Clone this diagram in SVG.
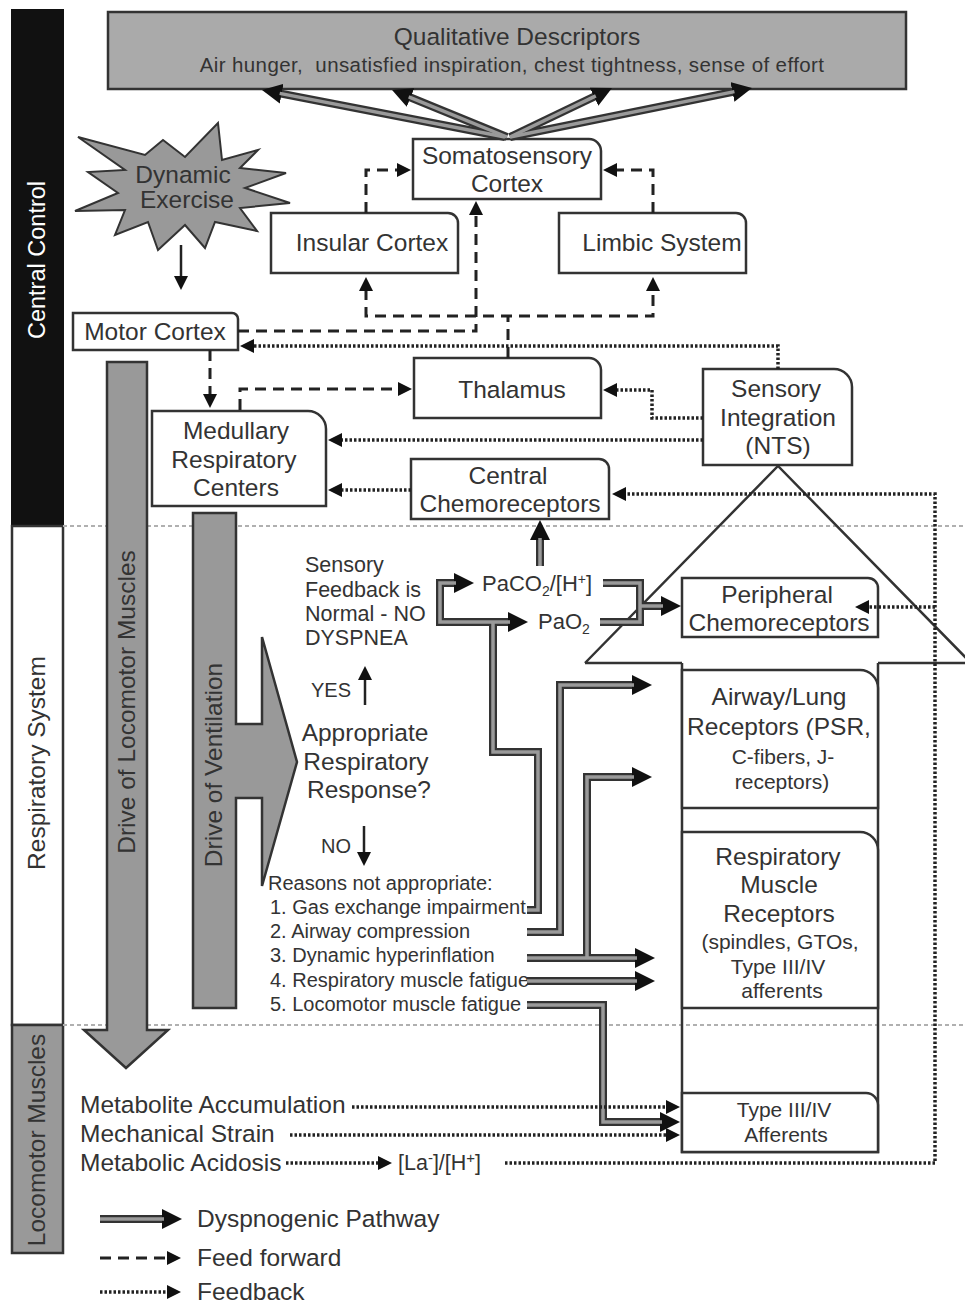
<svg xmlns="http://www.w3.org/2000/svg" width="965" height="1303" viewBox="0 0 965 1303">
<defs>
<style>
.box{fill:#fff;stroke:#333;stroke-width:2.5}
.t{font-family:"Liberation Sans",Arial,sans-serif;fill:#333;font-size:24.5px}
.m{text-anchor:middle}
.s{font-size:21px}
.d{font-size:21.5px}
.l{font-size:20px}
.ff{fill:none;stroke:#222;stroke-width:3;stroke-dasharray:11 7}
.fb{fill:none;stroke:#222;stroke-width:3.5;stroke-dasharray:2.5 2}
.sol{fill:none;stroke:#222;stroke-width:2.5}
.dpo{fill:none;stroke:#333;stroke-width:8}
.dpi{fill:none;stroke:#9a9a9a;stroke-width:3.5}
.gray{fill:#999;stroke:#333;stroke-width:2.5}
.sep{fill:none;stroke:#b0b0b0;stroke-width:2;stroke-dasharray:4 3}
.ln{fill:none;stroke:#333;stroke-width:2.5}
</style>
<marker id="big" markerUnits="userSpaceOnUse" markerWidth="20" markerHeight="20" viewBox="0 0 20 20" refX="2" refY="10" orient="auto-start-reverse"><path d="M0,0 L20,10 L0,20 Z" fill="#111"/></marker>
<marker id="sm" markerUnits="userSpaceOnUse" markerWidth="14" markerHeight="14" viewBox="0 0 14 14" refX="2" refY="7" orient="auto-start-reverse"><path d="M0,0 L14,7 L0,14 Z" fill="#111"/></marker>
</defs>
<rect width="965" height="1303" fill="#fff"/>

<!-- side bar -->
<g id="sidebar">
<rect x="12" y="10" width="51" height="516" fill="#111" stroke="#111" stroke-width="2"/>
<rect x="12" y="526" width="51" height="499" fill="#fff" stroke="#333" stroke-width="2.5"/>
<rect x="12" y="1025" width="51" height="228" class="gray"/>
<text class="t m" transform="translate(37,260) rotate(-90)" dy="8" style="fill:#fff;font-size:23.5px">Central Control</text>
<text class="t m" transform="translate(37,763) rotate(-90)" dy="8">Respiratory System</text>
<text class="t m" transform="translate(37,1140) rotate(-90)" dy="8">Locomotor Muscles</text>
</g>

<!-- separators -->
<path class="sep" d="M63,526 H965 M63,1025 H965"/>

<g id="qualitative">
<rect x="108" y="12" width="798" height="77" fill="#aaa" stroke="#333" stroke-width="2.5"/>
<text class="t m" x="517" y="45">Qualitative Descriptors</text>
<text class="t m" x="512" y="72" style="font-size:20.5px;letter-spacing:0.4px;white-space:pre">Air hunger,  unsatisfied inspiration, chest tightness, sense of effort</text>
</g>

<g id="exercise">
<polygon points="218,123 222,160 258,150 240,168 286,173 245,188 290,203 240,208 257,231 215,222 205,248 185,225 158,250 148,222 115,235 125,210 75,211 118,193 88,172 125,170 78,137 145,155 163,140 185,157" fill="#999" stroke="#333" stroke-width="2"/>
<text class="t m" x="183" y="183">Dynamic</text>
<text class="t m" x="187" y="208">Exercise</text>
</g>

<g id="somatosensory">
<path class="box" d="M413,139 H589 A12,12 0 0 1 601,151 V199 H413 Z"/>
<text class="t m" x="507" y="164">Somatosensory</text>
<text class="t m" x="507" y="192">Cortex</text>
</g>
<g id="insular">
<path class="box" d="M271,213 H448 A10,10 0 0 1 458,223 V273 H271 Z"/>
<text class="t m" x="372" y="251">Insular Cortex</text>
</g>
<g id="limbic">
<path class="box" d="M559,213 H736 A10,10 0 0 1 746,223 V273 H559 Z"/>
<text class="t m" x="662" y="251">Limbic System</text>
</g>
<g id="motor">
<path class="box" d="M73,313 H232 A6,6 0 0 1 238,319 V350 H73 Z"/>
<text class="t m" x="155" y="340">Motor Cortex</text>
</g>
<g id="thalamus">
<path class="box" d="M414,358 H589 A12,12 0 0 1 601,370 V418 H414 Z"/>
<text class="t m" x="512" y="398">Thalamus</text>
</g>
<g id="medullary">
<path class="box" d="M152,411 H308 A18,18 0 0 1 326,429 V506 H152 Z"/>
<text class="t m" x="236" y="439">Medullary</text>
<text class="t m" x="234" y="468">Respiratory</text>
<text class="t m" x="236" y="496">Centers</text>
</g>
<g id="nts">
<path class="box" d="M703,369 H834 A18,18 0 0 1 852,387 V465 H703 Z"/>
<text class="t m" x="776" y="397">Sensory</text>
<text class="t m" x="778" y="426">Integration</text>
<text class="t m" x="778" y="454">(NTS)</text>
</g>
<g id="centralchemo">
<path class="box" d="M411,459 H599 A10,10 0 0 1 609,469 V519 H411 Z"/>
<text class="t m" x="508" y="484">Central</text>
<text class="t m" x="510" y="512">Chemoreceptors</text>
</g>

<!-- big drive arrows -->
<g id="drive-locomotor">
<path class="gray" d="M107,362 H147 V1030 H168 L126,1068 L84,1030 H107 Z" stroke-width="2"/>
<text class="t m" transform="translate(127,702) rotate(-90)" dy="8">Drive of Locomotor Muscles</text>
</g>
<g id="drive-ventilation">
<path class="gray" d="M193,513 H236 V724 H262 V637 L297,762 L262,886 V798 H236 V1008 H193 Z" stroke-width="2"/>
<text class="t m" transform="translate(214,765) rotate(-90)" dy="8">Drive of Ventilation</text>
</g>

<!-- sensory afferent big arrow outline -->
<g id="afferent-arrow">
<path class="ln" d="M585,663 L778,466 L971,663 M585,663 H682 M878,663 H965 M682,663 V1152 H878 V663"/>
</g>
<g id="peripheral">
<path class="box" d="M682,578 H868 A10,10 0 0 1 878,588 V637 H682 Z"/>
<text class="t m" x="777" y="603">Peripheral</text>
<text class="t m" x="779" y="631">Chemoreceptors</text>
</g>
<g id="airway">
<path class="box" d="M682,670 H860 A18,18 0 0 1 878,688 V808 H682 Z"/>
<text class="t m" x="779" y="705">Airway/Lung</text>
<text class="t m" x="779" y="735">Receptors (PSR,</text>
<text class="t m s" x="783" y="764">C-fibers, J-</text>
<text class="t m s" x="782" y="789">receptors)</text>
</g>
<g id="respmuscle">
<path class="box" d="M682,832 H860 A18,18 0 0 1 878,850 V1008 H682 Z"/>
<text class="t m" x="778" y="865">Respiratory</text>
<text class="t m" x="779" y="893">Muscle</text>
<text class="t m" x="779" y="922">Receptors</text>
<text class="t m s" x="780" y="949">(spindles, GTOs,</text>
<text class="t m s" x="778" y="974">Type III/IV</text>
<text class="t m s" x="782" y="998">afferents</text>
</g>
<g id="typeIII">
<path class="box" d="M682,1093 H866 A12,12 0 0 1 878,1105 V1152 H682 Z"/>
<text class="t m s" x="784" y="1117">Type III/IV</text>
<text class="t m s" x="786" y="1142">Afferents</text>
</g>

<!-- decision texts -->
<g id="decision">
<text class="t d" x="305" y="572">Sensory</text>
<text class="t d" x="305" y="597">Feedback is</text>
<text class="t d" x="305" y="621">Normal - NO</text>
<text class="t d" x="305" y="645">DYSPNEA</text>
<text class="t l" x="311" y="697">YES</text>
<text class="t m" x="365" y="741">Appropriate</text>
<text class="t m" x="366" y="770">Respiratory</text>
<text class="t m" x="369" y="798">Response?</text>
<text class="t l" x="321" y="853">NO</text>
<text class="t l" x="268" y="890">Reasons not appropriate:</text>
<text class="t l" x="270" y="914">1. Gas exchange impairment</text>
<text class="t l" x="270" y="938">2. Airway compression</text>
<text class="t l" x="270" y="962">3. Dynamic hyperinflation</text>
<text class="t l" x="270" y="987">4. Respiratory muscle fatigue</text>
<text class="t l" x="270" y="1011">5. Locomotor muscle fatigue</text>
</g>
<g id="gases">
<text class="t" x="482" y="591" style="font-size:22px">PaCO<tspan style="font-size:14px" dy="5">2</tspan><tspan dy="-5">/[H</tspan><tspan style="font-size:14px" dy="-7">+</tspan><tspan dy="7">]</tspan></text>
<text class="t" x="538" y="629" style="font-size:22px">PaO<tspan style="font-size:14px" dy="5">2</tspan></text>
</g>
<g id="locomotor-inputs">
<text class="t" x="80" y="1113">Metabolite Accumulation</text>
<text class="t" x="80" y="1142">Mechanical Strain</text>
<text class="t" x="80" y="1171">Metabolic Acidosis</text>
<text class="t" x="398" y="1170" style="font-size:21.5px">[La<tspan style="font-size:15px" dy="-7">-</tspan><tspan dy="7">]/[H</tspan><tspan style="font-size:15px" dy="-7">+</tspan><tspan dy="7">]</tspan></text>
</g>

<!-- connectors -->
<g id="connectors">
<!-- dyspnogenic outer -->
<g class="dpo" marker-end="url(#big)">
<path d="M505,137 L279.7,93.4"/>
<path d="M507,137 L408.7,96.8"/>
<path d="M510,137 L595.8,95.8"/>
<path d="M510,137 L734.4,91.6"/>
<path d="M540,566 V538"/>
<path d="M603,583 H640 V622 H600" marker-end="none"/>
<path d="M640,606 H663"/>
<path d="M527,932 H560 V685 H634"/>
<path d="M527,958 H637"/>
<path d="M587,958 V777 H634"/>
<path d="M527,981 H637"/>
<path d="M527,1005 H603 V1122 H662"/>
<path d="M100,1219 H164"/>
</g>
<path class="dpo" d="M527,910 H538 V752 H493 V622"/>
<path class="dpo" d="M456,583 H440 V622 H510" marker-start="url(#big)" marker-end="url(#big)"/>
<!-- dyspnogenic inner -->
<g class="dpi">
<path d="M505,137 L279.7,93.4"/>
<path d="M507,137 L408.7,96.8"/>
<path d="M510,137 L595.8,95.8"/>
<path d="M510,137 L734.4,91.6"/>
<path d="M540,566 V538"/>
<path d="M603,583 H640 V622 H600"/>
<path d="M640,606 H663"/>
<path d="M527,932 H560 V685 H634"/>
<path d="M527,958 H637"/>
<path d="M587,958 V777 H634"/>
<path d="M527,981 H637"/>
<path d="M527,1005 H603 V1122 H662"/>
<path d="M100,1219 H164"/>
<path d="M527,910 H538 V752 H493 V622"/>
<path d="M456,583 H440 V622 H510"/>
</g>
<!-- feed forward -->
<g class="ff">
<path d="M366,213 V170 H399" marker-end="url(#sm)"/>
<path d="M653,213 V170 H615" marker-end="url(#sm)"/>
<path d="M238,331 H476 V213" marker-end="url(#sm)"/>
<path d="M366,289 V316 H653 V289" marker-start="url(#sm)" marker-end="url(#sm)"/>
<path d="M508,358 V316"/>
<path d="M210,350 V396" marker-end="url(#sm)"/>
<path d="M240,410 V389 H400" marker-end="url(#sm)"/>
<path d="M100,1258 H169" marker-end="url(#sm)"/>
</g>
<!-- feedback -->
<g class="fb" marker-end="url(#sm)">
<path d="M778,369 V346 H252"/>
<path d="M703,418 H652 V390 H615"/>
<path d="M703,440 H340"/>
<path d="M411,490 H340"/>
<path d="M505,1163 H935 V494 H624"/>
<path d="M935,607 H867"/>
<path d="M352,1107 H668"/>
<path d="M290,1135 H668"/>
<path d="M286,1163 H380"/>
<path d="M100,1292 H169"/>
</g>
<!-- plain arrows -->
<g class="sol" marker-end="url(#sm)">
<path d="M181,245 V278"/>
<path d="M365,705 V678"/>
<path d="M364,826 V854"/>
</g>
</g>

<g id="legend">
<text class="t" x="197" y="1227">Dyspnogenic Pathway</text>
<text class="t" x="197" y="1266">Feed forward</text>
<text class="t" x="197" y="1300">Feedback</text>
</g>
</svg>
